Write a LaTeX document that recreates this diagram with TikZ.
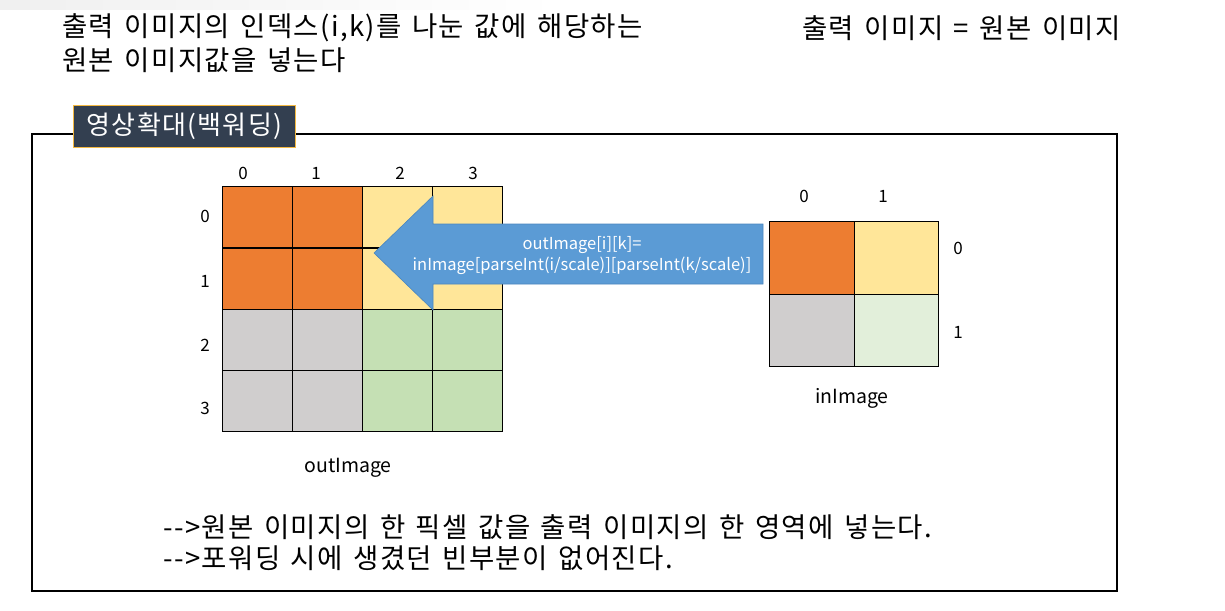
\documentclass[tikz,border=0pt]{standalone}
\usepackage{fontspec}
\setmainfont{Noto Sans CJK KR}
\newfontfamily\widefont[LetterSpace=5,WordSpace=1.4]{Noto Sans CJK KR}
\definecolor{cOrange}{HTML}{ED7D31}
\definecolor{cYellow}{HTML}{FFE699}
\definecolor{cGray}{HTML}{D0CECE}
\definecolor{cGreen}{HTML}{C5E0B4}
\definecolor{cLightGreen}{HTML}{E2EFDA}
\definecolor{cNavy}{HTML}{333F50}
\definecolor{cGold}{HTML}{F4B942}
\definecolor{cBlue}{HTML}{5B9BD5}
\definecolor{cBlueEdge}{HTML}{4A86BE}
\tikzset{
  bigtext/.style={inner sep=0pt, anchor=west, font=\widefont\fontsize{27.5}{30}\selectfont},
  idx/.style={inner sep=0pt, font=\fontsize{17}{20}\selectfont},
  capt/.style={inner sep=0pt, font=\fontsize{19.5}{22}\selectfont},
  outcell/.style={draw=black, line width=1.3pt, minimum width=70pt, minimum height=61.25pt, inner sep=0pt, anchor=north west},
  incell/.style={draw=black, line width=1.3pt, minimum width=84.5pt, minimum height=72.5pt, inner sep=0pt, anchor=north west},
}
\begin{document}
\begin{tikzpicture}[x=1pt,y=-1pt]
\useasboundingbox (0,0) rectangle (1225,610);
\fill[white] (0,0) rectangle (1225,610);
% faint shadow at top
\shade[left color=gray!12, right color=white] (0,0) rectangle (560,10);

% top texts
\node[bigtext] (t1) at (62,28) {출력 이미지의 인덱스(i,k)를 나눈 값에 해당하는};
\node[bigtext] (t2) at (62,60) {원본 이미지값을 넣는다};
\node[bigtext] (t3) at (802,28) {출력 이미지 = 원본 이미지};

% outer frame
\draw[line width=1.2pt] (32,134) rectangle (1117,591);

% title box
\node[draw=cGold, line width=1pt, fill=cNavy, text=white, inner sep=0pt,
      minimum width=222pt, minimum height=42pt, anchor=north west,
      font=\widefont\fontsize{26}{28}\selectfont] (title) at (73,105) {영상확대(백워딩)};

% outImage grid
\foreach \r/\c/\col in {0/0/cOrange,0/1/cOrange,0/2/cYellow,0/3/cYellow,
                        1/0/cOrange,1/1/cOrange,1/2/cYellow,1/3/cYellow,
                        2/0/cGray,2/1/cGray,2/2/cGreen,2/3/cGreen,
                        3/0/cGray,3/1/cGray,3/2/cGreen,3/3/cGreen}{
  \node[outcell, fill=\col] (o\r\c) at ({222+70*\c},{186+61.25*\r}) {};
}
\node[idx] (oc0) at (243,173) {0};
\node[idx] (oc1) at (316,173) {1};
\node[idx] (oc2) at (400,173) {2};
\node[idx] (oc3) at (473,173) {3};
\node[idx] (or0) at (205,216) {0};
\node[idx] (or1) at (205,281) {1};
\node[idx] (or2) at (205,345) {2};
\node[idx] (or3) at (205,408) {3};
\node[capt] (outcap) at (348,468) {outImage};

% inImage grid
\node[incell, fill=cOrange] (i00) at (769,221) {};
\node[incell, fill=cYellow] (i01) at (853.5,221) {};
\node[incell, fill=cGray] (i10) at (769,293.5) {};
\node[incell, fill=cLightGreen] (i11) at (853.5,293.5) {};
\node[idx] (ic0) at (804,196) {0};
\node[idx] (ic1) at (883,196) {1};
\node[idx] (ir0) at (958,248) {0};
\node[idx] (ir1) at (958,332) {1};
\node[capt] (incap) at (852,398) {inImage};

% big arrow
\filldraw[fill=cBlue, draw=cBlueEdge, line width=0.6pt]
  (763,224) -- (433,224) -- (433,196) -- (374,253) -- (433,310) -- (433,284) -- (763,284) -- cycle;
\node[text=white, align=center, inner sep=0pt, font=\fontsize{16.5}{21}\selectfont] (code) at (582,255)
  {outImage[i][k]=\\inImage[parseInt(i/scale)][parseInt(k/scale)]};

% bottom texts
\node[bigtext] (b1) at (163,527) {-{}->원본 이미지의 한 픽셀 값을 출력 이미지의 한 영역에 넣는다.};
\node[bigtext] (b2) at (163,558) {-{}->포워딩 시에 생겼던 빈부분이 없어진다.};
\end{tikzpicture}
\end{document}
